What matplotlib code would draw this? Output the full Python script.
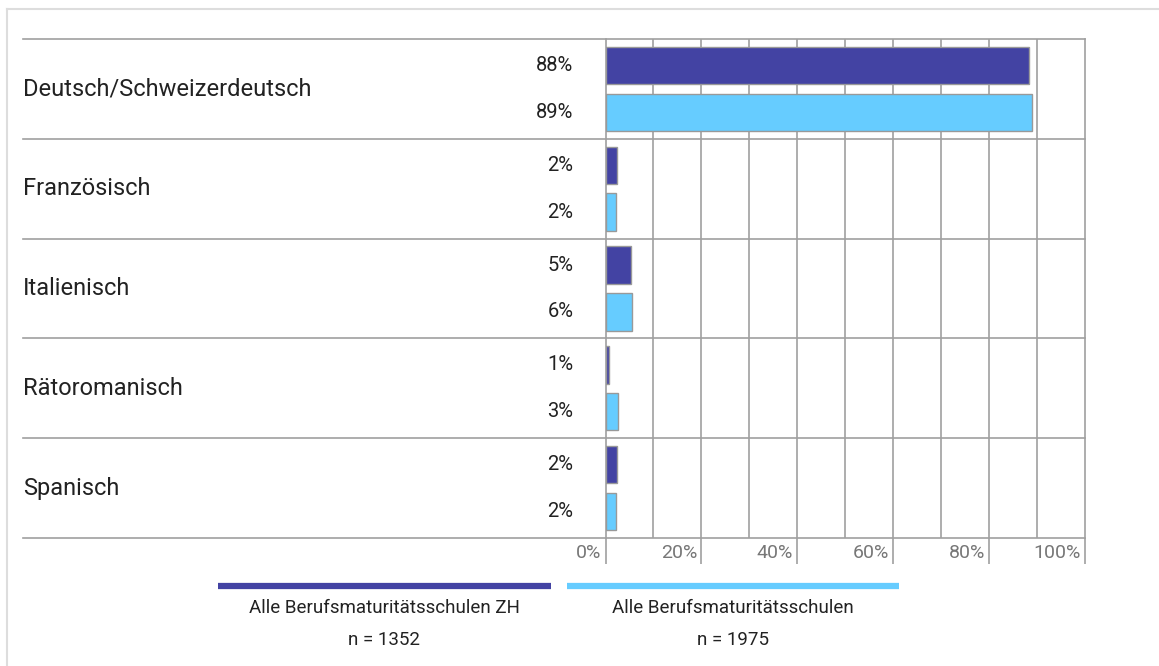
import matplotlib.pyplot as plt
from matplotlib.lines import Line2D

plt.rcParams['font.family'] = ['Roboto', 'DejaVu Sans']

# Data
languages = ['Deutsch/Schweizerdeutsch', 'Französisch', 'Italienisch',
             'Rätoromanisch', 'Spanisch']
zh_values = [88.3, 2.4, 5.4, 0.8, 2.3]
all_values = [89.0, 2.1, 5.6, 2.6, 2.1]
zh_labels = ['88%', '2%', '5%', '1%', '2%']
all_labels = ['89%', '2%', '6%', '3%', '2%']
series_names = ['Alle Berufsmaturitätsschulen ZH', 'Alle Berufsmaturitätsschulen']
series_n = ['n = 1352', 'n = 1975']
xticks = [0, 20, 40, 60, 80, 100]

dark = '#4343a3'
light = '#66ccff'
edge = '#999999'
grid = '#a0a0a0'

W, H = 1159, 666
fig = plt.figure(figsize=(W / 100, H / 100), dpi=100)

x0, x1 = 605.5, 1085
y0, y1 = 39, 538
ax = fig.add_axes([x0 / W, 1 - y1 / H, (x1 - x0) / W, (y1 - y0) / H])

pos = list(range(len(languages)))
off = 0.235
h = 0.375
ax.barh([p - off for p in pos], zh_values, height=h, color=dark,
        edgecolor=edge, linewidth=1, zorder=3)
ax.barh([p + off for p in pos], all_values, height=h, color=light,
        edgecolor=edge, linewidth=1, zorder=3)

ax.set_xlim(0, 100)
ax.set_ylim(len(languages) - 0.5, -0.5)

# vertical grid every 10%
for v in range(10, 100, 10):
    ax.axvline(v, color=grid, lw=1.2, zorder=1)

for s in ['top', 'bottom']:
    ax.spines[s].set_visible(False)
for s in ['left', 'right']:
    ax.spines[s].set_color(grid)
    ax.spines[s].set_linewidth(1.2)

# horizontal separators extending to the left under the labels
left_frac = (23 - x0) / (x1 - x0)
for b in [p - 0.5 for p in pos] + [len(languages) - 0.5]:
    ax.plot([left_frac, 1], [b, b], transform=ax.get_yaxis_transform(),
            color=grid, lw=1.2, clip_on=False, zorder=2)

ax.set_yticks([])
ax.set_xticks(xticks)
ax.tick_params(axis='x', length=19, width=1.2, color=grid, labelbottom=False)
for t in xticks:
    ax.annotate(f'{t}%', xy=(t, 0), xycoords=('data', 'axes fraction'),
                xytext=(-3, -11), textcoords='offset points',
                ha='right', va='center', fontsize=14, color='#777777')

# category labels
for p, name in zip(pos, languages):
    ax.annotate(name, xy=(0, p), xycoords=('axes fraction', 'data'),
                xytext=(23 - x0, 0), textcoords='offset pixels',
                ha='left', va='center', fontsize=17, color='#222222')

# value labels
for p, zl, al in zip(pos, zh_labels, all_labels):
    ax.annotate(zl, xy=(0, p - off), xycoords=('axes fraction', 'data'),
                xytext=(-32, 0), textcoords='offset pixels',
                ha='right', va='center', fontsize=14.5, color='#222222')
    ax.annotate(al, xy=(0, p + off), xycoords=('axes fraction', 'data'),
                xytext=(-32, 0), textcoords='offset pixels',
                ha='right', va='center', fontsize=14.5, color='#222222')

# legend
legend_spans = [(218, 551), (567, 899)]
for (a, b), c, name, n in zip(legend_spans, [dark, light], series_names, series_n):
    fig.add_artist(Line2D([a / W, b / W], [1 - 586 / H, 1 - 586 / H],
                          color=c, lw=4.5, solid_capstyle='butt'))
    cx = (a + b) / 2 / W
    fig.text(cx, 1 - 608 / H, name, ha='center', va='center',
             fontsize=13.5, color='#222222')
    fig.text(cx, 1 - 640 / H, n, ha='center', va='center',
             fontsize=13.5, color='#222222')

# outer frame
fig.add_artist(Line2D([7 / W, 1], [1 - 9 / H, 1 - 9 / H], color='#dddddd', lw=1.5))
fig.add_artist(Line2D([7 / W, 7 / W], [0, 1 - 9 / H], color='#dddddd', lw=1.5))

fig.savefig('out.png', dpi=100)
